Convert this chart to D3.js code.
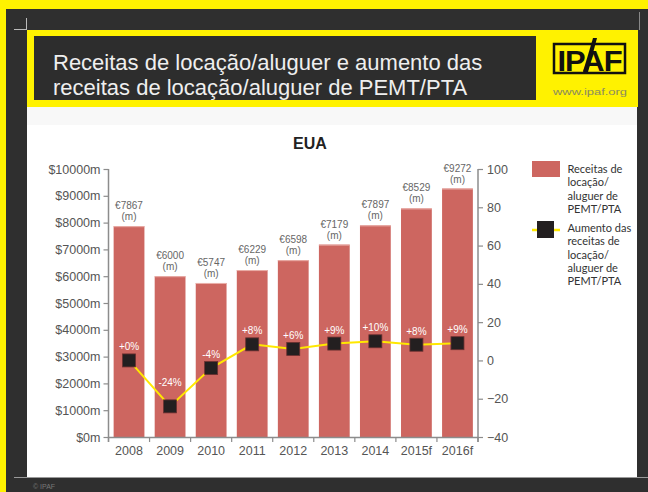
<!DOCTYPE html>
<html>
<head>
<meta charset="utf-8">
<script src="https://cdn.jsdelivr.net/npm/d3@7"></script>
<style>
  html, body { margin: 0; padding: 0; overflow: hidden; background: #2f2f2f; }
  svg { display: block; font-family: "Liberation Sans", Arial, sans-serif; }
</style>
</head>
<body>
<svg id="chart" width="648" height="492"></svg>
<script>
// chart data
var years = ["2008", "2009", "2010", "2011", "2012", "2013", "2014", "2015f", "2016f"];
var revenue = [7867, 6000, 5747, 6229, 6598, 7179, 7897, 8529, 9272];
var growth = [0, -24, -4, 8.4, 6, 8.8, 10, 8.2, 9];
var growthLabels = ["+0%", "-24%", "-4%", "+8%", "+6%", "+9%", "+10%", "+8%", "+9%"];
var leftTicks = [0, 1000, 2000, 3000, 4000, 5000, 6000, 7000, 8000, 9000, 10000];
var rightTicks = [-40, -20, 0, 20, 40, 60, 80, 100];
var legendBar = ["Receitas de", "locação/", "aluguer de", "PEMT/PTA"];
var legendLine = ["Aumento das", "receitas de", "locação/", "aluguer de", "PEMT/PTA"];
var titleLines = ["Receitas de locação/aluguer e aumento das", "receitas de locação/aluguer de PEMT/PTA"];

var svg = d3.select("#chart");

// frame: dark board with yellow top/left edge, yellow header strip, white panel
svg.append("rect").attr("width", 648).attr("height", 492).attr("fill", "#2f2f2f");
svg.append("rect").attr("width", 648).attr("height", 9).attr("fill", "#fff200");
svg.append("rect").attr("width", 6).attr("height", 492).attr("fill", "#fff200");
svg.append("rect").attr("x", 638).attr("y", 9).attr("width", 10).attr("height", 483).attr("fill", "#2f2f2f");
svg.append("rect").attr("x", 6).attr("y", 478).attr("width", 642).attr("height", 14).attr("fill", "#2f2f2f");
svg.append("rect").attr("x", 27).attr("y", 30).attr("width", 611).attr("height", 77).attr("fill", "#fff200");
svg.append("rect").attr("x", 34).attr("y", 36).attr("width", 502).attr("height", 64).attr("fill", "#2d2d2d");
svg.append("rect").attr("x", 27).attr("y", 107).attr("width", 610).attr("height", 370).attr("fill", "#ffffff");
svg.append("rect").attr("x", 27).attr("y", 107).attr("width", 610).attr("height", 18).attr("fill", "#f8f8f8");
svg.append("line").attr("x1", 14).attr("x2", 648).attr("y1", 477.5).attr("y2", 477.5)
    .attr("stroke", "#9a9a9a").attr("stroke-width", 1);
svg.append("line").attr("x1", 14).attr("x2", 27).attr("y1", 29.5).attr("y2", 29.5)
    .attr("stroke", "#bbbbbb").attr("stroke-width", 1);
svg.append("line").attr("x1", 26.5).attr("x2", 26.5).attr("y1", 18).attr("y2", 30)
    .attr("stroke", "#bbbbbb").attr("stroke-width", 1);
svg.append("line").attr("x1", 639.5).attr("x2", 639.5).attr("y1", 12).attr("y2", 30)
    .attr("stroke", "#888").attr("stroke-width", 1);

svg.append("text")
    .attr("fill", "#efefef")
    .attr("font-size", "22px")
  .selectAll("tspan")
    .data(titleLines)
  .enter().append("tspan")
    .attr("x", 53)
    .attr("y", function(d, i) { return 70 + i * 25; })
    .text(function(d) { return d; });

// IPAF logo
var logo = svg.append("g");
logo.append("rect").attr("x", 554).attr("y", 44).attr("width", 71).attr("height", 29)
    .attr("fill", "none").attr("stroke", "#111").attr("stroke-width", 2.5);
logo.append("text").attr("x", 589.5).attr("y", 70.5).attr("text-anchor", "middle")
    .attr("font-size", "30px").attr("font-weight", "bold").attr("fill", "#111")
    .attr("font-family", "'Liberation Sans Narrow', 'Liberation Sans', sans-serif")
    .attr("letter-spacing", "-1px")
    .attr("textLength", 64).attr("lengthAdjust", "spacingAndGlyphs")
    .text("IPAF");
logo.append("path").attr("d", "M583,72 L593,38 L597,38 L588,72 Z").attr("fill", "#111");
svg.append("text").attr("x", 590).attr("y", 95).attr("text-anchor", "middle")
    .attr("font-size", "9.5px").attr("fill", "#8a8a60")
    .attr("textLength", 74).attr("lengthAdjust", "spacingAndGlyphs")
    .text("www.ipaf.org");

svg.append("text").attr("x", 33).attr("y", 489).attr("font-size", "7px").attr("fill", "#777").text("© IPAF");

// chart area
var margin = {top: 169, left: 108.5};
var width = 369.5, height = 268;
var g = svg.append("g").attr("transform", "translate(" + margin.left + "," + margin.top + ")");

var x = d3.scaleBand().domain(years).range([0, width]).paddingInner(0.25).paddingOuter(0.125);
var yL = d3.scaleLinear().domain([0, 10000]).range([height, 0]);
var yR = d3.scaleLinear().domain([-40, 100]).range([height, 0]);

svg.append("text")
    .attr("x", 310).attr("y", 149)
    .attr("text-anchor", "middle")
    .attr("font-size", "16px").attr("font-weight", "bold").attr("fill", "#222")
    .text("EUA");

// bars
g.selectAll(".bar")
    .data(revenue)
  .enter().append("rect")
    .attr("class", "bar")
    .attr("x", function(d, i) { return x(years[i]); })
    .attr("y", function(d) { return yL(d); })
    .attr("width", x.bandwidth())
    .attr("height", function(d) { return height - yL(d); })
    .attr("fill", "#cd6660");

g.selectAll(".bartop")
    .data(revenue)
  .enter().append("line")
    .attr("x1", function(d, i) { return x(years[i]); })
    .attr("x2", function(d, i) { return x(years[i]) + x.bandwidth(); })
    .attr("y1", function(d) { return yL(d) + 0.5; })
    .attr("y2", function(d) { return yL(d) + 0.5; })
    .attr("stroke", "#eab0aa").attr("stroke-width", 1);

var barLabel = g.selectAll(".barlabel")
    .data(revenue)
  .enter().append("text")
    .attr("class", "barlabel")
    .attr("text-anchor", "middle")
    .attr("font-size", "10px")
    .attr("fill", "#666");
barLabel.append("tspan")
    .attr("x", function(d, i) { return x(years[i]) + x.bandwidth() / 2; })
    .attr("y", function(d) { return yL(d) - 17; })
    .text(function(d) { return "€" + d; });
barLabel.append("tspan")
    .attr("x", function(d, i) { return x(years[i]) + x.bandwidth() / 2; })
    .attr("y", function(d) { return yL(d) - 6; })
    .text("(m)");

// axes
var axisColor = "#8c8c8c", labelColor = "#555";

var leftAxis = g.append("g")
    .call(d3.axisLeft(yL).tickValues(leftTicks).tickSize(5).tickPadding(3)
      .tickFormat(function(d) { return "$" + d + "m"; }));
var rightAxis = g.append("g")
    .attr("transform", "translate(" + width + ",0)")
    .call(d3.axisRight(yR).tickValues(rightTicks).tickSize(5).tickPadding(4));
var bottomAxis = g.append("g")
    .attr("transform", "translate(0," + height + ")")
    .call(d3.axisBottom(x).tickSize(0).tickPadding(9));

[leftAxis, rightAxis, bottomAxis].forEach(function(a) {
  a.select(".domain").attr("stroke", axisColor).attr("stroke-width", 1.5);
  a.selectAll(".tick line").attr("stroke", axisColor).attr("stroke-width", 1.2);
  a.selectAll("text").attr("fill", labelColor).attr("font-size", "12.5px")
    .attr("font-family", "Liberation Sans, Arial, sans-serif");
});
leftAxis.select(".domain").attr("d", "M0,0V" + (height + 5));
rightAxis.select(".domain").attr("d", "M0,0V" + (height + 5));

// x ticks sit between the bars
var bounds = years.map(function(d) { return x(d) - x.step() * x.paddingInner() / 2; }).concat([width]);
bottomAxis.selectAll(".bound")
    .data(bounds)
  .enter().append("line")
    .attr("x1", function(d) { return d; })
    .attr("x2", function(d) { return d; })
    .attr("y1", 0).attr("y2", 5)
    .attr("stroke", axisColor).attr("stroke-width", 1.2);

// growth line
var cx = function(d, i) { return x(years[i]) + x.bandwidth() / 2; };
var line = d3.line()
    .x(cx)
    .y(function(d) { return yR(d); });

g.append("path")
    .datum(growth)
    .attr("d", line)
    .attr("fill", "none")
    .attr("stroke", "#ffe800")
    .attr("stroke-width", 2);

g.selectAll(".marker")
    .data(growth)
  .enter().append("rect")
    .attr("x", function(d, i) { return cx(d, i) - 6.5; })
    .attr("y", function(d) { return yR(d) - 6.5; })
    .attr("width", 13).attr("height", 13)
    .attr("fill", "#231f20")
    .attr("stroke", "#6a3030").attr("stroke-width", 0.8);

// labels sit above the markers; the deepest dip gets extra room so it clears the line
var minGrowth = d3.min(growth);
g.selectAll(".pct")
    .data(growth)
  .enter().append("text")
    .attr("x", cx)
    .attr("y", function(d) { return yR(d) - (d === minGrowth ? 20 : 10); })
    .attr("text-anchor", "middle")
    .attr("font-size", "10px")
    .attr("fill", "#ffffff")
    .text(function(d, i) { return growthLabels[i]; });

// legend
var legend = svg.append("g").attr("font-family", "Lato, 'Noto Sans', sans-serif")
    .attr("font-size", "11px").attr("fill", "#333");
legend.append("rect").attr("x", 532).attr("y", 161).attr("width", 28).attr("height", 16).attr("fill", "#cd6660");
legend.append("text")
  .selectAll("tspan")
    .data(legendBar)
  .enter().append("tspan")
    .attr("x", 567.5)
    .attr("y", function(d, i) { return 173 + i * 13.3; })
    .text(function(d) { return d; });
legend.append("line").attr("x1", 532).attr("x2", 560).attr("y1", 230).attr("y2", 230)
    .attr("stroke", "#ffe800").attr("stroke-width", 2.5);
legend.append("rect").attr("x", 537).attr("y", 221).attr("width", 17).attr("height", 17).attr("fill", "#231f20");
legend.append("text")
  .selectAll("tspan")
    .data(legendLine)
  .enter().append("tspan")
    .attr("x", 567.5)
    .attr("y", function(d, i) { return 232 + i * 13.3; })
    .text(function(d) { return d; });
</script>
</body>
</html>
